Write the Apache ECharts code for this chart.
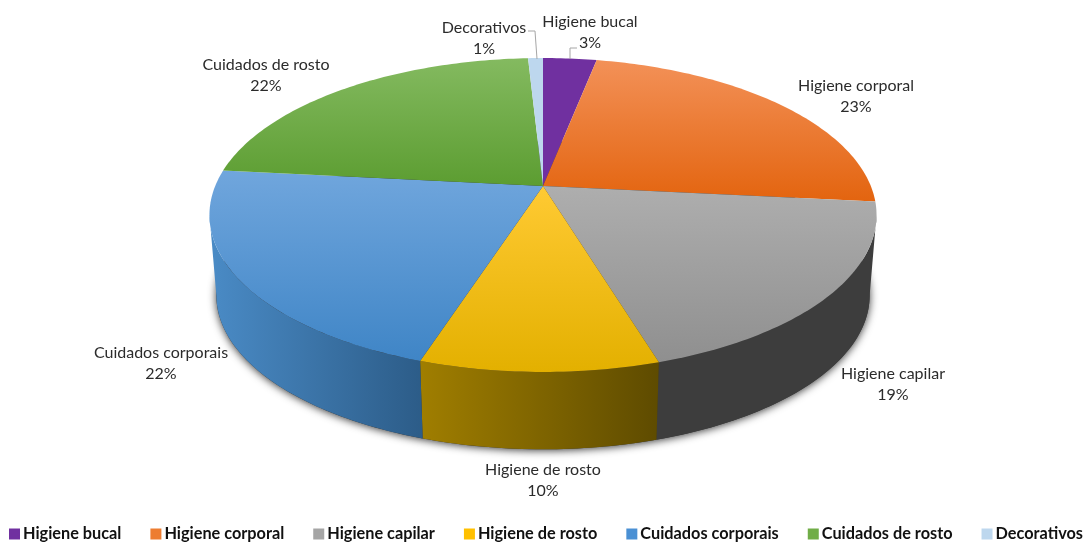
<!DOCTYPE html>
<html><head><meta charset="utf-8">
<style>html,body{margin:0;padding:0;background:#fff}#c{width:1086px;height:542px}</style>
<script src="https://cdn.jsdelivr.net/npm/echarts@6/dist/echarts.min.js"></script>
</head><body><div id="c"></div>
<script>
const categories = ['Higiene bucal','Higiene corporal','Higiene capilar','Higiene de rosto','Cuidados corporais','Cuidados de rosto','Decorativos'];
const shares = [3.1, 23.49, 18.71, 9.7, 21.65, 22.49, 0.86];
const topStops = [['#7030a0','#7030a0'],['#f39158','#e3640f'],['#aeaeae','#8f8f8f'],['#ffca33','#e3b000'],['#70a6dd','#3f85c6'],['#84ba60','#5c9d31'],['#bdd7ee','#bdd7ee']];
const sideStops = [null,null,['#3d3d3d','#3d3d3d'],['#a07e00','#5e4b00'],['#4a8bc6','#2c5c88'],null,null];
const legendColors = ['#7030a0','#ed7d31','#a5a5a5','#ffc000','#4a90d4','#70ad47','#bdd7ee'];
const labelCenters = [[590,32],[856,96],[893,384],[543,480],[161,363],[266,75],[484,38]];
const leaders = [[[577,48],[570,48],[570,59]],null,null,null,null,null,[[528,31],[535,31],[537,59]]];

const topDisc = {cx:543, cy:186, a:327.8, b:151.6, k:0.1847};
const botDisc = {cx:543, cy:267, a:321, b:148.6, k:0.1847};
function project(d, deg){
  const t = deg*Math.PI/180, u = Math.sin(t), v = -Math.cos(t), w = 1-d.k*v;
  return [d.cx+d.a*u/w, d.cy+d.b*v/w];
}
function arc(d, from, to){
  const pts=[], n=Math.max(2,Math.ceil(Math.abs(to-from)));
  for(let i=0;i<=n;i++) pts.push(project(d, from+(to-from)*i/n));
  return pts;
}
function grad(stops, horizontal){
  return {type:'linear',x:0,y:0,x2:horizontal?1:0,y2:horizontal?0:1,
    colorStops:[{offset:0,color:stops[0]},{offset:1,color:stops[1]}]};
}
// the side wall is visible between the two silhouette angles of the projected disc
const SIL = Math.acos(topDisc.k)*180/Math.PI;
const FRONT_FROM = 90+(90-SIL), FRONT_TO = 360-FRONT_FROM;
const total = shares.reduce((s,x)=>s+x,0);
let running = 0;
const series = categories.map((name,i)=>{
  const start = running/total*360; running += shares[i]; const end = running/total*360;
  return {
    type:'custom', name, coordinateSystem:'none', silent:true, z:3,
    itemStyle:{color:legendColors[i]},
    data:[{name, value:[start,end,shares[i]]}],
    renderItem(params, api){
      const s=api.value(0), e=api.value(1), pct=Math.round(api.value(2)/total*100);
      const children=[];
      if(sideStops[i]){
        const a = Math.max(s,FRONT_FROM), b = Math.min(e,FRONT_TO);
        children.push({type:'polygon',z2:2,shape:{points:arc(topDisc,a,b).concat(arc(botDisc,b,a))},
          style:{fill:grad(sideStops[i],true)}});
      }
      children.push({type:'polygon',z2:5,shape:{points:[[topDisc.cx,topDisc.cy]].concat(arc(topDisc,s,e))},
        style:{fill:grad(topStops[i],false)}});
      if(leaders[i]) children.push({type:'polyline',z2:6,shape:{points:leaders[i]},
        style:{fill:null,stroke:'#a6a6a6',lineWidth:1}});
      children.push({type:'text',z2:7,style:{text:name+'\n'+pct+'%',x:labelCenters[i][0],y:labelCenters[i][1],
        align:'center',verticalAlign:'middle',fontFamily:'Lato',fontSize:16,lineHeight:21,fill:'#2b2b2b'}});
      return {type:'group',children};
    }
  };
});
series.unshift({
  type:'custom', name:'sombra', coordinateSystem:'none', silent:true, z:1,
  data:[[0]],
  renderItem(){
    return {type:'polygon',shape:{points:arc(botDisc,0,360)},
      style:{fill:'#333',shadowBlur:8,shadowColor:'rgba(0,0,0,0.8)',shadowOffsetY:1}};
  }
});
const chart = echarts.init(document.getElementById('c'),null,{renderer:'canvas'});
chart.setOption({
  animation:false,
  backgroundColor:'#fff',
  legend:{data:categories,left:9,top:526,padding:0,itemWidth:11,itemHeight:11,itemGap:29,icon:'rect',
    textStyle:{fontFamily:'Lato',fontSize:16.3,fontWeight:'bold',color:'#111',padding:[0,0,0,-2]}},
  series
});
</script></body></html>
